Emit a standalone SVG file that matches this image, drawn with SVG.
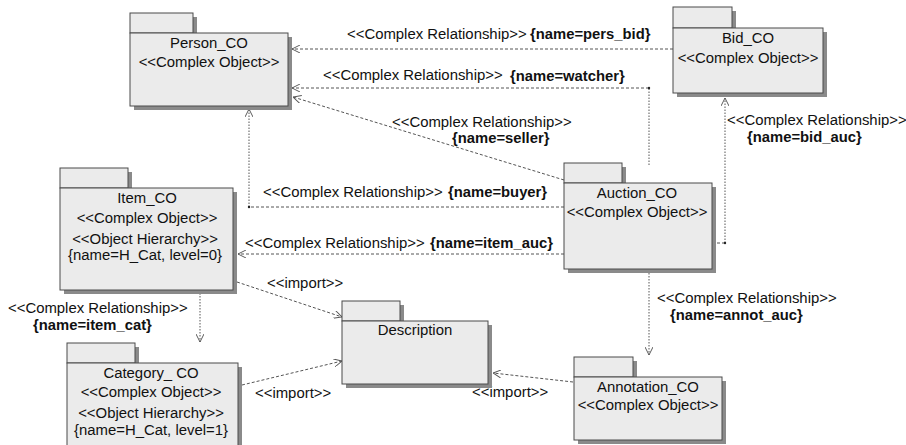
<svg xmlns="http://www.w3.org/2000/svg" width="906" height="445" viewBox="0 0 906 445">
  <style>
    .shadow { fill: #8a8a8a; }
    .pkg { fill: #ebebeb; stroke: #4a4a4a; stroke-width: 1; }
    .t { font-family: "Liberation Sans", Arial, sans-serif; font-size: 14.9px; fill: #111; }
    .b { font-family: "Liberation Sans", Arial, sans-serif; font-size: 14.8px; font-weight: bold; fill: #111; }
    .c { text-anchor: middle; }
    .dash { fill: none; stroke: #555; stroke-width: 1; stroke-dasharray: 3 2; }
    .dot { fill: none; stroke: #555; stroke-width: 1; stroke-dasharray: 1.5 1.5; }
    .pt { fill: #222; }
  </style>
  <defs>
    <marker id="open" viewBox="0 0 10 10" refX="10" refY="5" markerWidth="8" markerHeight="8" markerUnits="userSpaceOnUse" orient="auto">
      <path d="M0,0 L10,5 L0,10" fill="none" stroke="#555" stroke-width="1.2"/>
    </marker>
  </defs>

  <rect width="906" height="445" fill="#ffffff"/>

  <!-- connectors -->
  <g id="connectors">
    <path class="dash" d="M673,49 L292,49" marker-end="url(#open)"/>
    <path class="dot" d="M649,165 L649,88"/>
    <path class="dash" d="M649,88 L292,88" marker-end="url(#open)"/>
    <path class="dash" d="M564,180 L293,97" marker-end="url(#open)"/>
    <path class="dash" d="M564,207 L249,207"/>
    <path class="dot" d="M249,207 L249,109" marker-end="url(#open)"/>
    <path class="dash" d="M564,254 L238,254" marker-end="url(#open)"/>
    <path class="dash" d="M712,243 L725,243"/>
    <path class="dot" d="M725,243 L725,98" marker-end="url(#open)"/>
    <path class="dot" d="M155,293 L200,293 L200,342" marker-end="url(#open)"/>
    <path class="dot" d="M649,273 L649,355" marker-end="url(#open)"/>
    <path class="dash" d="M237,282 L342,317" marker-end="url(#open)"/>
    <path class="dash" d="M242,385 L342,361" marker-end="url(#open)"/>
    <path class="dash" d="M573,382 L493,373" marker-end="url(#open)"/>
    <circle class="pt" cx="649" cy="88" r="1.2"/>
    <circle class="pt" cx="249" cy="207" r="1.2"/>
    <circle class="pt" cx="725" cy="243" r="1.2"/>
    <circle class="pt" cx="200" cy="293" r="1.2"/>

    <!-- connector labels -->
    <text class="t" x="347" y="39">&lt;&lt;Complex Relationship&gt;&gt;</text>
    <text class="b" x="530" y="39">{name=pers_bid}</text>
    <text class="t" x="323" y="80">&lt;&lt;Complex Relationship&gt;&gt;</text>
    <text class="b" x="510" y="81">{name=watcher}</text>
    <text class="t" x="392" y="127">&lt;&lt;Complex Relationship&gt;&gt;</text>
    <text class="b" x="452" y="143">{name=seller}</text>
    <text class="t" x="263" y="197">&lt;&lt;Complex Relationship&gt;&gt;</text>
    <text class="b" x="448" y="197">{name=buyer}</text>
    <text class="t" x="245" y="248">&lt;&lt;Complex Relationship&gt;&gt;</text>
    <text class="b" x="430" y="248">{name=item_auc}</text>
    <text class="t" x="727" y="125">&lt;&lt;Complex Relationship&gt;&gt;</text>
    <text class="b" x="747" y="142">{name=bid_auc}</text>
    <text class="t" x="8" y="313">&lt;&lt;Complex Relationship&gt;&gt;</text>
    <text class="b" x="33" y="330">{name=item_cat}</text>
    <text class="t" x="657" y="303">&lt;&lt;Complex Relationship&gt;&gt;</text>
    <text class="b" x="670" y="320">{name=annot_auc}</text>
    <text class="t" x="267" y="288">&lt;&lt;import&gt;&gt;</text>
    <text class="t" x="255" y="398">&lt;&lt;import&gt;&gt;</text>
    <text class="t" x="472" y="397">&lt;&lt;import&gt;&gt;</text>
  </g>

  <!-- packages -->
  <g id="person">
    <rect class="shadow" x="134" y="17" width="63" height="20"/>
    <rect class="shadow" x="134" y="37" width="158" height="73"/>
    <rect class="pkg" x="130" y="13" width="63" height="20"/>
    <rect class="pkg" x="130" y="33" width="158" height="73"/>
    <text class="t c" x="209" y="48">Person_CO</text>
    <text class="t c" x="209" y="67">&lt;&lt;Complex Object&gt;&gt;</text>
  </g>

  <g id="bid">
    <rect class="shadow" x="677" y="11" width="59" height="21"/>
    <rect class="shadow" x="677" y="32" width="150" height="65"/>
    <rect class="pkg" x="673" y="7" width="59" height="21"/>
    <rect class="pkg" x="673" y="28" width="150" height="65"/>
    <text class="t c" x="748" y="43">Bid_CO</text>
    <text class="t c" x="748" y="63">&lt;&lt;Complex Object&gt;&gt;</text>
  </g>

  <g id="item">
    <rect class="shadow" x="64" y="172" width="68" height="20"/>
    <rect class="shadow" x="64" y="192" width="173" height="102"/>
    <rect class="pkg" x="60" y="168" width="68" height="20"/>
    <rect class="pkg" x="60" y="188" width="173" height="102"/>
    <text class="t c" x="147" y="203">Item_CO</text>
    <text class="t c" x="147" y="223">&lt;&lt;Complex Object&gt;&gt;</text>
    <text class="t c" x="145" y="244">&lt;&lt;Object Hierarchy&gt;&gt;</text>
    <text class="t c" x="145" y="260">{name=H_Cat, level=0}</text>
  </g>

  <g id="auction">
    <rect class="shadow" x="568" y="167" width="58" height="20"/>
    <rect class="shadow" x="568" y="187" width="148" height="86"/>
    <rect class="pkg" x="564" y="163" width="58" height="20"/>
    <rect class="pkg" x="564" y="183" width="148" height="86"/>
    <text class="t c" x="637" y="198">Auction_CO</text>
    <text class="t c" x="637" y="217">&lt;&lt;Complex Object&gt;&gt;</text>
  </g>

  <g id="category">
    <rect class="shadow" x="71" y="347" width="68" height="20"/>
    <rect class="shadow" x="71" y="367" width="171" height="90"/>
    <rect class="pkg" x="67" y="343" width="68" height="20"/>
    <rect class="pkg" x="67" y="363" width="171" height="90"/>
    <text class="t c" x="151" y="378">Category_ CO</text>
    <text class="t c" x="151" y="397">&lt;&lt;Complex Object&gt;&gt;</text>
    <text class="t c" x="151" y="418">&lt;&lt;Object Hierarchy&gt;&gt;</text>
    <text class="t c" x="151" y="435">{name=H_Cat, level=1}</text>
  </g>

  <g id="description">
    <rect class="shadow" x="346" y="305" width="58" height="20"/>
    <rect class="shadow" x="346" y="325" width="146" height="63"/>
    <rect class="pkg" x="342" y="301" width="58" height="20"/>
    <rect class="pkg" x="342" y="321" width="146" height="63"/>
    <text class="t c" x="415" y="335">Description</text>
  </g>

  <g id="annotation">
    <rect class="shadow" x="578" y="361" width="59" height="20"/>
    <rect class="shadow" x="578" y="381" width="148" height="63"/>
    <rect class="pkg" x="574" y="357" width="59" height="20"/>
    <rect class="pkg" x="574" y="377" width="148" height="63"/>
    <text class="t c" x="648" y="392">Annotation_CO</text>
    <text class="t c" x="648" y="410">&lt;&lt;Complex Object&gt;&gt;</text>
  </g>
</svg>
